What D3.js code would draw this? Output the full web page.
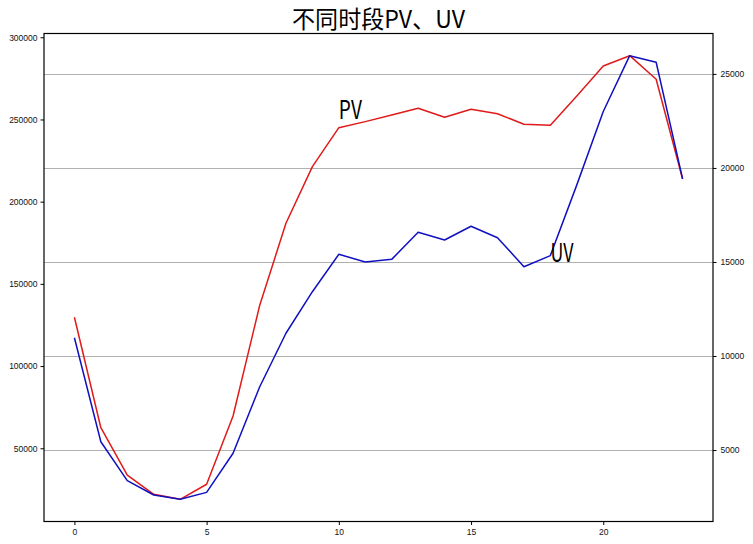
<!DOCTYPE html>
<html>
<head>
<meta charset="utf-8">
<script src="https://cdn.jsdelivr.net/npm/d3@7"></script>
<style>
  html, body { margin: 0; padding: 0; background: #fff; }
  svg { display: block; }
  text { font-family: "Noto Sans CJK SC", "DejaVu Sans", sans-serif; }
</style>
</head>
<body>
<div id="chart"></div>
<script>
const hours = d3.range(0, 24);
const pvValues = [129700, 62500, 33700, 22000, 18950, 28100, 69600, 136500, 186900, 221300, 245000, 248700,
                  252700, 256800, 251300, 256200, 253500, 247100, 246500, 264300, 282500, 288800, 274500, 213800];
const uvValues = [10970, 5440, 3370, 2610, 2380, 2750, 4830, 8340, 11210, 13420, 15410, 15000,
                  15140, 16580, 16170, 16900, 16290, 14750, 15340, 19100, 23000, 25970, 25620, 19420];
const xTicks = [0, 5, 10, 15, 20];
const pvTicks = [50000, 100000, 150000, 200000, 250000, 300000];
const uvTicks = [5000, 10000, 15000, 20000, 25000];
const titleText = "不同时段PV、UV";
const pvLabel = { text: "PV", x: 10, y: 250000 };
const uvLabel = { text: "UV", x: 18, y: 15000 };

const W = 753, H = 544;
const L = 44, R = 713, T = 33.5, B = 521.5;

function padded(ext) {
  const m = (ext[1] - ext[0]) * 0.05;
  return [ext[0] - m, ext[1] + m];
}

const x = d3.scaleLinear().domain(padded(d3.extent(hours))).range([L, R]);
const yL = d3.scaleLinear().domain(padded(d3.extent(pvValues))).range([B, T]);
const yR = d3.scaleLinear().domain(padded(d3.extent(uvValues))).range([B, T]);

const svg = d3.select("#chart").append("svg").attr("width", W).attr("height", H);
svg.append("rect").attr("width", W).attr("height", H).attr("fill", "#fff");

// grid (from right axis)
svg.append("g").selectAll("line").data(uvTicks).join("line")
  .attr("x1", L).attr("x2", R)
  .attr("y1", d => Math.round(yR(d)) + 0.5).attr("y2", d => Math.round(yR(d)) + 0.5)
  .attr("stroke", "#b0b0b0").attr("stroke-width", 1);

const line = (ys) => d3.line().x((d, i) => x(hours[i])).y(d => ys(d));

svg.append("path").datum(pvValues).attr("d", line(yL))
  .attr("fill", "none").attr("stroke", "#e01a1a").attr("stroke-width", 1.5).attr("stroke-linejoin", "round");
svg.append("path").datum(uvValues).attr("d", line(yR))
  .attr("fill", "none").attr("stroke", "#1010c0").attr("stroke-width", 1.5).attr("stroke-linejoin", "round");

// frame
svg.append("rect").attr("x", L).attr("y", T).attr("width", R - L).attr("height", B - T)
  .attr("fill", "none").attr("stroke", "#000").attr("stroke-width", 1.2);

const styleAxis = g => {
  g.select(".domain").remove();
  g.selectAll(".tick line").attr("stroke", "#000");
  g.selectAll(".tick text").attr("fill", "#111").style("font-size", "8.5px")
    .style("font-family", "'Liberation Sans', 'DejaVu Sans', sans-serif");
};

svg.append("g").attr("transform", `translate(0,${B})`)
  .call(d3.axisBottom(x).tickValues(xTicks).tickSize(3.5).tickPadding(4).tickFormat(d3.format("d")))
  .call(styleAxis);
svg.append("g").attr("transform", `translate(${L},0)`)
  .call(d3.axisLeft(yL).tickValues(pvTicks).tickSize(3.5).tickPadding(3).tickFormat(d3.format("d")))
  .call(styleAxis);
svg.append("g").attr("transform", `translate(${R},0)`)
  .call(d3.axisRight(yR).tickValues(uvTicks).tickSize(3.5).tickPadding(4).tickFormat(d3.format("d")))
  .call(styleAxis);

// title
svg.append("text").attr("x", (L + R) / 2).attr("y", 28)
  .attr("text-anchor", "middle").attr("fill", "#000")
  .style("font-size", "24px")
  .attr("textLength", 173).attr("lengthAdjust", "spacingAndGlyphs")
  .text(titleText);

// labels
svg.append("text").attr("x", x(pvLabel.x)).attr("y", yL(pvLabel.y))
  .attr("fill", "#000").style("font-size", "25px")
  .attr("textLength", 23).attr("lengthAdjust", "spacingAndGlyphs")
  .text(pvLabel.text);
svg.append("text").attr("x", x(uvLabel.x)).attr("y", yR(uvLabel.y))
  .attr("fill", "#000").style("font-size", "25px")
  .attr("textLength", 23).attr("lengthAdjust", "spacingAndGlyphs")
  .text(uvLabel.text);
</script>
</body>
</html>
